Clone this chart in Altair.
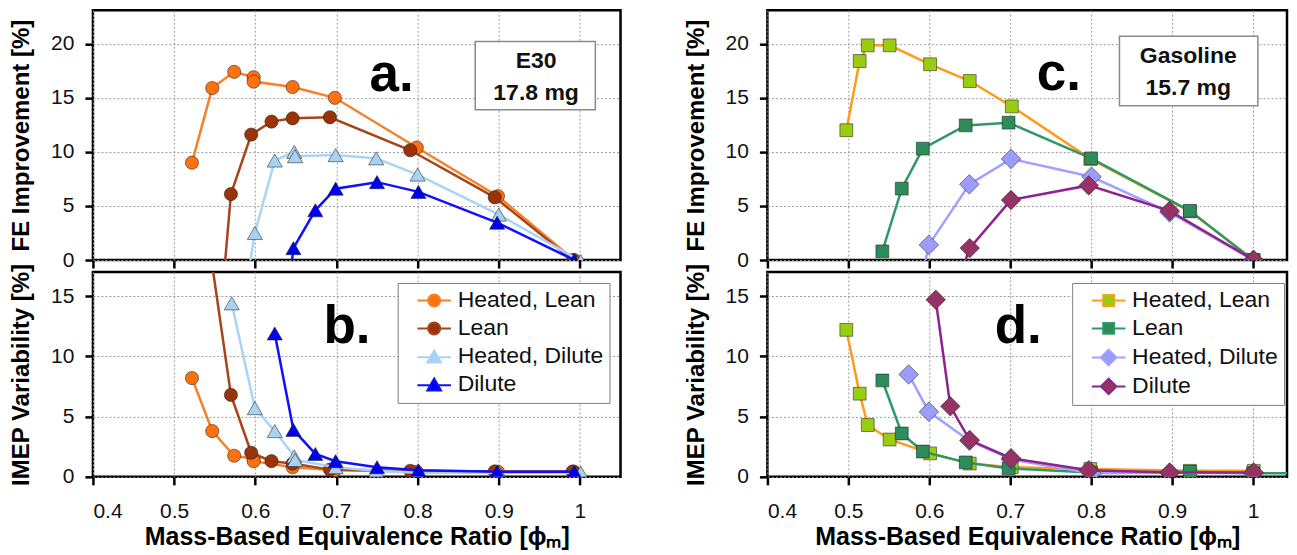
import altair as alt
import pandas as pd

FONT = "Liberation Sans, Arial, Helvetica, sans-serif"
SERIES = ["Heated, Lean", "Lean", "Heated, Dilute", "Dilute"]
XTICKS = [0.4, 0.5, 0.6, 0.7, 0.8, 0.9, 1.0]
XTITLE = "Mass-Based Equivalence Ratio [\u03d5\u2098]"

# ---------------- E30 (17.8 mg) ----------------
e30_hl_phi = [0.522, 0.547, 0.574, 0.598, 0.598, 0.646, 0.698, 0.799, 0.899, 0.993]
e30_hl_fe = [9.0, 15.9, 17.4, 16.9, 16.5, 16.0, 15.0, 10.4, 5.9, 0.0]
e30_hl_imep = [8.2, 3.8, 1.75, 1.5, 1.3, 0.8, 0.55, 0.42, 0.42, 0.42]

e30_l_phi = [0.545, 0.570, 0.595, 0.620, 0.646, 0.692, 0.791, 0.895, 0.991]
e30_l_fe = [-15.7, 6.1, 11.6, 12.8, 13.1, 13.2, 10.15, 5.8, 0.0]
e30_l_imep = [18.5, 6.8, 2.0, 1.3, 1.1, 0.6, 0.5, 0.45, 0.45]

e30_hd_phi = [0.571, 0.5995, 0.624, 0.648, 0.649, 0.699, 0.749, 0.800, 0.900, 1.001]
e30_hd_fe = [-10.7, 2.5, 9.2, 10.0, 9.6, 9.7, 9.4, 7.9, 4.2, -0.1]
e30_hd_imep = [14.4, 5.7, 3.8, 1.7, 1.4, 0.8, 0.5, 0.35, 0.35, 0.35]

e30_d_phi = [0.624, 0.647, 0.674, 0.699, 0.750, 0.801, 0.898, 0.993]
e30_d_fe = [-14.2, 1.1, 4.6, 6.6, 7.2, 6.3, 3.45, 0.0]
e30_d_imep = [11.9, 3.9, 1.9, 1.3, 0.8, 0.55, 0.42, 0.42]

# ---------------- Gasoline (15.7 mg) ----------------
gas_hl_phi = [0.4975, 0.514, 0.524, 0.551, 0.601, 0.650, 0.702, 0.799, 0.922, 1.001]
gas_hl_fe = [12.0, 18.4, 19.85, 19.85, 18.1, 16.55, 14.2, 9.35, 4.5, 0.0]
gas_hl_imep = [12.2, 6.9, 4.3, 3.1, 1.95, 1.1, 0.8, 0.65, 0.5, 0.5]

gas_l_phi = [0.542, 0.566, 0.592, 0.645, 0.698, 0.800, 0.922, 1.000, 1.10]
gas_l_fe = [0.8, 6.6, 10.3, 12.45, 12.7, 9.4, 4.55, 0.0, -4.0]
gas_l_imep = [8.0, 3.6, 2.1, 1.2, 0.7, 0.36, 0.42, 0.3, 0.3]

gas_hd_phi = [0.5745, 0.5995, 0.6495, 0.701, 0.8005, 0.897, 1.0]
gas_hd_fe = [-7.3, 1.4, 7.0, 9.35, 7.7, 4.4, 0.0]
gas_hd_imep = [8.5, 5.4, 3.0, 1.45, 0.3, 0.33, 0.3]

gas_d_phi = [0.608, 0.626, 0.650, 0.701, 0.797, 0.897, 1.001]
gas_d_fe = [-9.0, -3.9, 1.1, 5.55, 6.9, 4.55, 0.0]
gas_d_imep = [14.7, 5.85, 3.05, 1.55, 0.55, 0.36, 0.36]

# colours
E30_LINE = ["#F7802A", "#A8441A", "#A8D4F5", "#1010FF"]
E30_FILL = ["#FF7010", "#9A3308", "#A9D2F2", "#0000F0"]
GAS_LINE = ["#FF9A1A", "#2E9966", "#A0A0FF", "#8E2290"]
GAS_FILL = ["#9ACD10", "#2E8B5A", "#9C9CFF", "#963264"]

# legend symbols: line + marker
P_CIRCLE = "M-2.8,0L-1,0M1,0L2.8,0M-1,0A1,1,0,1,0,1,0A1,1,0,1,0,-1,0Z"
P_TRI = "M-2.8,0.15L-0.66,0.15M0.66,0.15L2.8,0.15M0,-1L1.15,1L-1.15,1Z"
P_SQUARE = "M-2.8,0L-0.9,0M0.9,0L2.8,0M-0.9,-0.9L0.9,-0.9L0.9,0.9L-0.9,0.9Z"
P_DIAMOND = "M-2.8,0L-1.3,0M1.3,0L2.8,0M-1.3,0L0,-1.3L1.3,0L0,1.3Z"


def table(groups):
    rows = []
    for name, (phi, fe, imep) in zip(SERIES, groups):
        for i, (p, f, m) in enumerate(zip(phi, fe, imep)):
            rows.append({"series": name, "idx": i, "phi": p, "fe": f, "imep": m})
    return pd.DataFrame(rows)


e30 = table([(e30_hl_phi, e30_hl_fe, e30_hl_imep), (e30_l_phi, e30_l_fe, e30_l_imep),
             (e30_hd_phi, e30_hd_fe, e30_hd_imep), (e30_d_phi, e30_d_fe, e30_d_imep)])
gas = table([(gas_hl_phi, gas_hl_fe, gas_hl_imep), (gas_l_phi, gas_l_fe, gas_l_imep),
             (gas_hd_phi, gas_hd_fe, gas_hd_imep), (gas_d_phi, gas_d_fe, gas_d_imep)])


def panel(df, ycol, ydom, yticks, ytitle, top, xmax, width, height,
          line_c, fill_c, shapes, sizes, leg_shapes, letter, letter_pos, box=None):
    x = alt.X("phi:Q", scale=alt.Scale(domain=[0.4, xmax], nice=False, zero=False),
              axis=alt.Axis(values=XTICKS, format="~g", labels=not top,
                            title=None if top else XTITLE, titleFontSize=25,
                            labelPadding=0 if top else 16, titlePadding=3))
    y = alt.Y(f"{ycol}:Q", scale=alt.Scale(domain=ydom, nice=False, zero=False),
              axis=alt.Axis(values=yticks, title=ytitle, labelPadding=11, titlePadding=17))
    base = alt.Chart(df)
    layers = []
    for name, lc, fc, shp, sz in zip(SERIES, line_c, fill_c, shapes, sizes):
        sub = base.transform_filter(alt.datum.series == name)
        layers.append(sub.mark_line(clip=True, strokeWidth=2.5, color=lc).encode(
            x=x, y=y, order="idx:Q"))
        layers.append(sub.mark_point(filled=True, clip=True, opacity=1, shape=shp, size=sz,
                                     fill=fc, stroke="#222", strokeWidth=1,
                                     strokeOpacity=0.55).encode(x=x, y=y))
    if not top:
        leg = alt.Legend(title=None, orient="none", legendX=305, legendY=11,
                         fillColor="white", strokeColor="#808080", padding=6,
                         labelFont=FONT, labelFontSize=23, labelColor="#111",
                         symbolSize=144, symbolStrokeWidth=2, symbolOffset=19,
                         labelOffset=12, rowPadding=4)
        legend_layer = base.transform_filter("datum.idx < 0").mark_point(
            filled=True, opacity=1).encode(
            x=x, y=y,
            fill=alt.Fill("series:N", scale=alt.Scale(domain=SERIES, range=fill_c), legend=leg),
            stroke=alt.Stroke("series:N", scale=alt.Scale(domain=SERIES, range=line_c), legend=leg),
            shape=alt.Shape("series:N", scale=alt.Scale(domain=SERIES, range=leg_shapes), legend=leg))
        layers.append(legend_layer)
    if box is not None:
        (bx1, bx2, by1, by2), (tx, ty1, ty2), (t1, t2) = box
        rect = alt.Chart(pd.DataFrame({"phi": [bx1], "phi2": [bx2], ycol: [by1], "y2": [by2]})).mark_rect(
            fill="white", stroke="#8a8a8a", strokeWidth=1.5).encode(
            x="phi:Q", x2="phi2:Q", y=f"{ycol}:Q", y2="y2:Q")
        txt = alt.Chart(pd.DataFrame({"phi": [tx, tx], ycol: [ty1, ty2], "t": [t1, t2]})).mark_text(
            font=FONT, fontSize=23, fontWeight="bold", color="#111", baseline="middle").encode(
            x="phi:Q", y=f"{ycol}:Q", text="t:N")
        layers += [rect, txt]
    lx, ly = letter_pos
    let = alt.Chart(pd.DataFrame({"phi": [lx], ycol: [ly], "t": [letter]})).mark_text(
        font=FONT, fontSize=53, fontWeight="bold", color="#000", baseline="alphabetic").encode(
        x="phi:Q", y=f"{ycol}:Q", text="t:N")
    layers.append(let)
    return alt.layer(*layers).properties(width=width, height=height)


E30_SHAPES = ["circle", "circle", "triangle-up", "triangle-up"]
E30_SIZES = [175, 175, 230, 230]
E30_LEG = [P_CIRCLE, P_CIRCLE, P_TRI, P_TRI]
GAS_SHAPES = ["square", "square", "diamond", "diamond"]
GAS_SIZES = [165, 165, 380, 380]
GAS_LEG = [P_SQUARE, P_SQUARE, P_DIAMOND, P_DIAMOND]

pa = panel(e30, "fe", [0, 23.1], [0, 5, 10, 15, 20], "FE Improvement [%]", True, 1.05, 528, 250,
           E30_LINE, E30_FILL, E30_SHAPES, E30_SIZES, E30_LEG, "a.", (0.768, 15.6),
           box=((0.871, 1.019, 20.2, 13.9), (0.946, 18.4, 15.4), ("E30", "17.8 mg")))
pb = panel(e30, "imep", [0, 17], [0, 5, 10, 15], "IMEP Variability [%]", False, 1.05, 528, 205,
           E30_LINE, E30_FILL, E30_SHAPES, E30_SIZES, E30_LEG, "b.", (0.713, 11.1))
pc = panel(gas, "fe", [0, 23.1], [0, 5, 10, 15, 20], "FE Improvement [%]", True, 1.042, 520, 250,
           GAS_LINE, GAS_FILL, GAS_SHAPES, GAS_SIZES, GAS_LEG, "c.", (0.76, 15.7),
           box=((0.835, 1.006, 20.7, 14.26), (0.92, 18.86, 15.9), ("Gasoline", "15.7 mg")))
pd_ = panel(gas, "imep", [0, 17], [0, 5, 10, 15], "IMEP Variability [%]", False, 1.042, 520, 205,
            GAS_LINE, GAS_FILL, GAS_SHAPES, GAS_SIZES, GAS_LEG, "d.", (0.71, 11.1))

RES = dict(fill="independent", stroke="independent", shape="independent")
left = alt.vconcat(pa, pb, spacing=12, bounds="flush").resolve_scale(**RES)
right = alt.vconcat(pc, pd_, spacing=12, bounds="flush").resolve_scale(**RES)

chart = alt.hconcat(left, right, spacing=60).resolve_scale(**RES).properties(
    padding={"left": 0, "top": 0, "right": 0, "bottom": 0}
).configure(font=FONT).configure_view(
    stroke="black", strokeWidth=2.5
).configure_axis(
    grid=True, gridColor="#9a9a9a", gridDash=[2, 2], gridWidth=1, domain=False,
    tickColor="black", tickWidth=2.5, tickSize=8,
    labelFont=FONT, labelFontSize=21, labelColor="#111",
    titleFont=FONT, titleFontSize=24, titleFontWeight="bold", titleColor="#000"
)

chart.save("out.html", embed_options={"renderer": "svg", "actions": False})
